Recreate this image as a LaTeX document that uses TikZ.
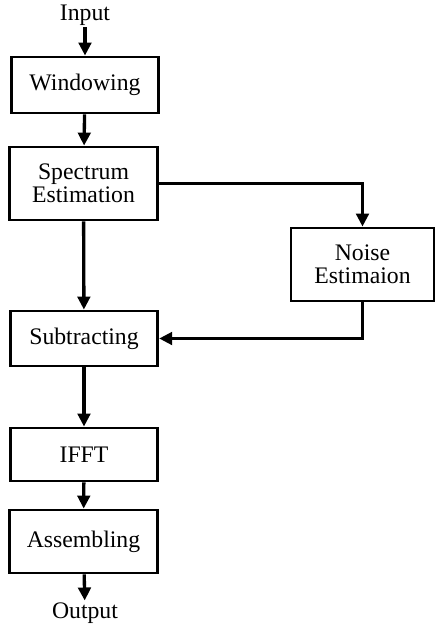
\documentclass[tikz,border=0pt]{standalone}
\usepackage{fontspec}
\setmainfont{Liberation Serif}
\usetikzlibrary{arrows.meta}

\begin{document}
\begin{tikzpicture}[
  blk/.style={draw, line width=1.6pt, minimum width=2.95cm, align=center,
    inner sep=0pt, font=\fontsize{13.5}{13}\selectfont},
  lbl/.style={font=\fontsize{13.5}{13}\selectfont, inner sep=1pt},
  flow/.style={line width=1.9pt, -{Triangle[length=2.6mm, width=2.5mm]}}
]
\useasboundingbox (0,0) rectangle (8.72,-12.52);
\path (1.70,-0.30) node[lbl] (in) {Input};
\path (1.70,-1.70) node[blk, minimum height=1.12cm] (win) {Windowing};
\path (1.67,-3.67) node[blk, minimum height=1.46cm] (spec) {Spectrum\\Estimation};
\path (7.25,-5.29) node[blk, minimum width=2.86cm, minimum height=1.46cm] (noise) {Noise\\Estimaion};
\path (1.68,-6.77) node[blk, minimum height=1.10cm] (sub) {Subtracting};
\path (1.68,-9.09) node[blk, minimum height=1.06cm] (ifft) {IFFT};
\path (1.67,-10.83) node[blk, minimum height=1.26cm] (asm) {Assembling};
\path (1.70,-12.26) node[lbl] (out) {Output};
\draw[flow] (in) -- (win);
\draw[flow] (win) -- (spec);
\draw[flow] (spec.east) -| (noise.north);
\draw[flow] (spec) -- (sub);
\draw[flow] (noise.south) |- (sub.east);
\draw[flow] (sub) -- (ifft);
\draw[flow] (ifft) -- (asm);
\draw[flow] (asm) -- (out);
\end{tikzpicture}
\end{document}
